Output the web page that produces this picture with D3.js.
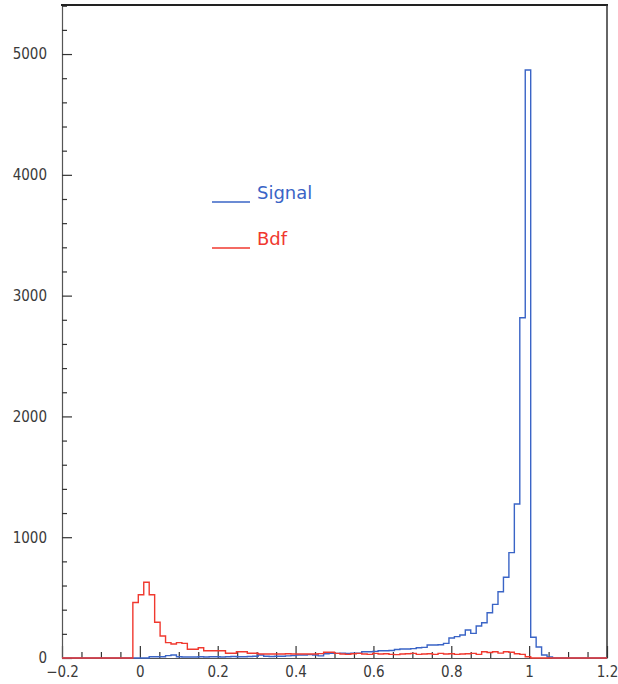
<!DOCTYPE html>
<html>
<head>
<meta charset="utf-8">
<script src="https://cdn.jsdelivr.net/npm/d3@7"></script>
<style>
  html, body { margin: 0; padding: 0; background: #ffffff; }
  svg { display: block; }
</style>
</head>
<body>
<svg id="chart" width="618" height="684"></svg>
<script>
// ---- data ----
const binLow = -0.2;
const binHigh = 1.2;
const nBins = 100;
// Signal histogram contents (bins 0..99)
const signalCounts = [
  0,0,0,0,0,0,0,0,0,0,
  0,0,0,0,0,0,10,10,10,20,
  25,10,8,8,8,10,8,10,10,8,
  10,12,10,10,12,15,25,15,12,15,
  15,18,20,25,25,28,25,18,35,38,
  38,40,38,40,39,52,52,55,60,60,
  62,70,74,74,78,85,88,108,108,110,
  121,165,177,190,232,204,265,292,375,444,
  549,668,872,1275,2817,4868,172,91,25,8,
  0,0,0,0,0,0,0,0,0,0
];
// Background ("Bdf") histogram contents (bins 0..99)
const bdfCounts = [
  0,0,0,0,0,0,0,0,0,0,
  0,0,0,460,524,627,524,296,182,127,
  116,127,121,72,72,85,60,60,60,60,
  39,39,52,52,39,39,33,33,33,33,
  33,35,33,33,33,33,33,36,47,47,
  38,33,30,35,38,33,30,38,33,35,
  30,28,33,35,38,30,33,35,30,38,
  33,35,30,33,35,38,30,52,45,52,
  40,52,48,35,30,10,0,0,0,0,
  0,0,0,0,0,0,0,0,0,0
];
const xMajorTicks = [-0.2, 0, 0.2, 0.4, 0.6, 0.8, 1, 1.2];
const xMajorLabels = ["\u22120.2", "0", "0.2", "0.4", "0.6", "0.8", "1", "1.2"];
const xMinorTicks = [-0.15,-0.1,-0.05,0.05,0.1,0.15,0.25,0.3,0.35,0.45,0.5,0.55,0.65,0.7,0.75,0.85,0.9,0.95,1.05,1.1,1.15];
const yMajorTicks = [0, 1000, 2000, 3000, 4000, 5000];
const yMajorLabels = ["0", "1000", "2000", "3000", "4000", "5000"];
const yMinorTicks = [200,400,600,800,1200,1400,1600,1800,2200,2400,2600,2800,3200,3400,3600,3800,4200,4400,4600,4800,5200,5400];
const yMax = 5406;
const legendNames = ["Signal", "Bdf"];
const seriesColors = ["#3a64c6", "#f0392f"];

// ---- layout ----
const mLeft = 62, mRight = 607, mTop = 5, mBottom = 658;
const svg = d3.select("#chart");
const x = d3.scaleLinear().domain([binLow, binHigh]).range([mLeft, mRight]);
const y = d3.scaleLinear().domain([0, yMax]).range([mBottom, mTop]);
const binW = (binHigh - binLow) / nBins;
const tickFont = "'DejaVu Sans Condensed', 'DejaVu Sans', sans-serif";

// axes
const gx = svg.append("g").attr("transform", `translate(0,${mBottom})`)
  .call(d3.axisBottom(x).tickValues(xMajorTicks)
    .tickFormat((d, i) => xMajorLabels[i]).tickSize(-12).tickSizeOuter(0).tickPadding(8));
const gxm = svg.append("g").attr("transform", `translate(0,${mBottom})`)
  .call(d3.axisBottom(x).tickValues(xMinorTicks).tickFormat("").tickSize(-6).tickSizeOuter(0));
const gy = svg.append("g").attr("transform", `translate(${mLeft},0)`)
  .call(d3.axisLeft(y).tickValues(yMajorTicks)
    .tickFormat((d, i) => yMajorLabels[i]).tickSize(-10).tickSizeOuter(0).tickPadding(15));
const gym = svg.append("g").attr("transform", `translate(${mLeft},0)`)
  .call(d3.axisLeft(y).tickValues(yMinorTicks).tickFormat("").tickSize(-5).tickSizeOuter(0));

[gx, gxm, gy, gym].forEach(g => {
  g.select(".domain").attr("stroke", "#555").attr("stroke-width", 1.2);
  g.selectAll(".tick line").attr("stroke", "#333").attr("stroke-width", 1.2);
  g.selectAll("text").attr("font-family", tickFont).attr("font-size", 15)
    .attr("fill", "#3a3a3a").attr("font-stretch", "condensed");
});
gym.select(".domain").remove();
gxm.select(".domain").remove();

// frame: top and right
svg.append("line").attr("x1", x(binLow) - 1).attr("x2", x(binHigh) + 1)
  .attr("y1", y(yMax)).attr("y2", y(yMax)).attr("stroke", "#222").attr("stroke-width", 2);
svg.append("line").attr("x1", x(binHigh)).attr("x2", x(binHigh))
  .attr("y1", y(yMax)).attr("y2", y(0)).attr("stroke", "#333").attr("stroke-width", 1.5);

// histograms
function stepPoints(counts) {
  const pts = [[x(binLow), y(0)]];
  counts.forEach((c, i) => {
    const e0 = binLow + i * binW, e1 = binLow + (i + 1) * binW;
    pts.push([x(e0), y(c)], [x(e1), y(c)]);
  });
  pts.push([x(binHigh), y(0)]);
  return pts;
}
const line = d3.line();
[signalCounts, bdfCounts].forEach((counts, si) => {
  svg.append("path").attr("d", line(stepPoints(counts)))
    .attr("fill", "none").attr("stroke", seriesColors[si])
    .attr("stroke-width", 1.4).attr("stroke-linejoin", "miter");
});

// legend
const legY = [202, 248];
legendNames.forEach((name, i) => {
  svg.append("line").attr("x1", 212).attr("x2", 250).attr("y1", legY[i]).attr("y2", legY[i])
    .attr("stroke", seriesColors[i]).attr("stroke-width", 1.6);
  svg.append("text").attr("x", 257).attr("y", legY[i] - 3)
    .attr("font-family", "'DejaVu Sans', sans-serif").attr("font-size", 18)
    .attr("fill", seriesColors[i]).text(name);
});
</script>
</body>
</html>
